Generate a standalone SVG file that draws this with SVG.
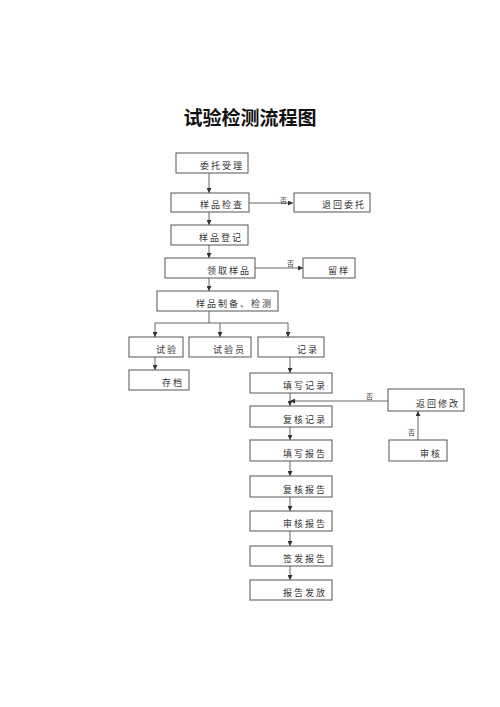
<svg xmlns="http://www.w3.org/2000/svg" width="500" height="707" viewBox="0 0 500 707">
<defs>
<marker id="ah" viewBox="0 0 8 8" refX="8" refY="4" markerWidth="5" markerHeight="5" orient="auto" markerUnits="userSpaceOnUse">
<path d="M0,0 L8,4 L0,8 Z" fill="#333"/>
</marker>
</defs>
<style>
.b{fill:#fff;stroke:#555;stroke-width:1}
.t{font-family:"Liberation Sans","Noto Sans CJK SC",sans-serif;font-size:9px;fill:#333;text-anchor:end;letter-spacing:2px}
.l{font-family:"Liberation Sans","Noto Sans CJK SC",sans-serif;font-size:7px;fill:#333}
.c{fill:none;stroke:#555;stroke-width:0.9}
.a{marker-end:url(#ah)}
.ti{font-family:"Noto Sans CJK SC",sans-serif;font-size:19px;font-weight:bold;fill:#111;text-anchor:middle}
</style>
<rect width="500" height="707" fill="#fff"/>
<text class="ti" x="250" y="125">试验检测流程图</text>
<g id="connectors">
<path class="c a" d="M209,173 V193"/>
<path class="c a" d="M249,203 H293"/>
<path class="c a" d="M209,212 V225"/>
<path class="c a" d="M209,245 V258"/>
<path class="c a" d="M255,268 H303"/>
<path class="c a" d="M209,278 V291"/>
<path class="c" d="M209,311 V323 M155,323 H288"/>
<path class="c a" d="M155,323 V337"/>
<path class="c a" d="M220,323 V337"/>
<path class="c a" d="M288,323 V337"/>
<path class="c a" d="M155,357 V370"/>
<path class="c a" d="M290,357 V373"/>
<path class="c a" d="M290,393 V406"/>
<path class="c a" d="M388,401 H290"/>
<path class="c a" d="M418,440 V411"/>
<path class="c a" d="M290,427 V440"/>
<path class="c a" d="M290,461 V476"/>
<path class="c a" d="M290,497 V511"/>
<path class="c a" d="M290,531 V546"/>
<path class="c a" d="M290,566 V580"/>
<text class="l" x="280" y="203">否</text>
<text class="l" x="287" y="266">否</text>
<text class="l" x="366" y="399">否</text>
<text class="l" x="408" y="435">否</text>
</g>
<g id="n1"><rect class="b" x="176" y="153" width="72" height="20"/><text class="t" x="244" y="169">委托受理</text></g>
<g id="n2"><rect class="b" x="171" y="193" width="78" height="19"/><text class="t" x="244" y="208">样品检查</text></g>
<g id="s1"><rect class="b" x="294" y="193" width="76" height="19"/><text class="t" x="366" y="208">退回委托</text></g>
<g id="n3"><rect class="b" x="171" y="225" width="77" height="20"/><text class="t" x="243" y="241">样品登记</text></g>
<g id="n4"><rect class="b" x="165" y="258" width="90" height="20"/><text class="t" x="251" y="274">领取样品</text></g>
<g id="s2"><rect class="b" x="303" y="258" width="52" height="20"/><text class="t" x="350" y="274">留样</text></g>
<g id="n5"><rect class="b" x="157" y="291" width="121" height="20"/><text class="t" x="273" y="307">样品制备、检测</text></g>
<g id="n6a"><rect class="b" x="129" y="337" width="54" height="20"/><text class="t" x="178" y="353">试验</text></g>
<g id="n6b"><rect class="b" x="189" y="337" width="62" height="20"/><text class="t" x="246" y="353">试验员</text></g>
<g id="n6c"><rect class="b" x="258" y="337" width="66" height="20"/><text class="t" x="319" y="353">记录</text></g>
<g id="n7a"><rect class="b" x="129" y="370" width="60" height="20"/><text class="t" x="184" y="386">存档</text></g>
<g id="r1"><rect class="b" x="250" y="373" width="82" height="20"/><text class="t" x="327" y="389">填写记录</text></g>
<g id="r2"><rect class="b" x="250" y="406" width="82" height="21"/><text class="t" x="327" y="423">复核记录</text></g>
<g id="r3"><rect class="b" x="250" y="440" width="82" height="21"/><text class="t" x="327" y="457">填写报告</text></g>
<g id="r4"><rect class="b" x="250" y="476" width="82" height="21"/><text class="t" x="327" y="493">复核报告</text></g>
<g id="r5"><rect class="b" x="250" y="511" width="82" height="20"/><text class="t" x="327" y="527">审核报告</text></g>
<g id="r6"><rect class="b" x="250" y="546" width="82" height="20"/><text class="t" x="327" y="562">签发报告</text></g>
<g id="r7"><rect class="b" x="250" y="580" width="82" height="20"/><text class="t" x="327" y="596">报告发放</text></g>
<g id="s3"><rect class="b" x="388" y="389" width="76" height="22"/><text class="t" x="460" y="407">返回修改</text></g>
<g id="s4"><rect class="b" x="389" y="440" width="58" height="21"/><text class="t" x="442" y="457">审核</text></g>
</svg>
